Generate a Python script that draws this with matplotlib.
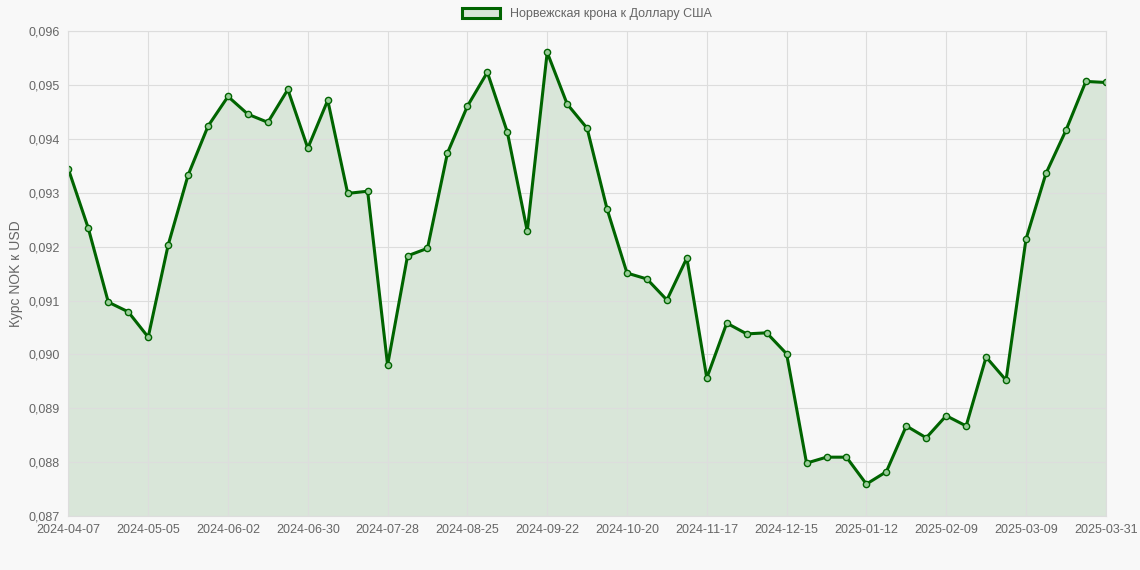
import matplotlib
matplotlib.use("Agg")
import matplotlib.pyplot as plt
from matplotlib.patches import Patch
import numpy as np

# weekly NOK->USD rate, 53 points
rates = [0.09344, 0.09234, 0.09097, 0.09079, 0.09032, 0.09203, 0.09333, 0.09424,
         0.09479, 0.09446, 0.09431, 0.09492, 0.09383, 0.09472, 0.09299, 0.09303,
         0.08980, 0.09183, 0.09197, 0.09374, 0.09461, 0.09524, 0.09413, 0.09229,
         0.09561, 0.09465, 0.09420, 0.09270, 0.09151, 0.09140, 0.09101, 0.09179,
         0.08956, 0.09058, 0.09038, 0.09040, 0.09001, 0.08798, 0.08809, 0.08809,
         0.08759, 0.08782, 0.08867, 0.08845, 0.08886, 0.08867, 0.08995, 0.08952,
         0.09214, 0.09336, 0.09416, 0.09507, 0.09505]
tick_idx = [0, 4, 8, 12, 16, 20, 24, 28, 32, 36, 40, 44, 48, 52]
tick_labels = ["2024-04-07", "2024-05-05", "2024-06-02", "2024-06-30", "2024-07-28",
               "2024-08-25", "2024-09-22", "2024-10-20", "2024-11-17", "2024-12-15",
               "2025-01-12", "2025-02-09", "2025-03-09", "2025-03-31"]

plt.rcParams["font.family"] = ["Liberation Sans", "DejaVu Sans"]
fig = plt.figure(figsize=(11.4, 5.7), dpi=100, facecolor="#f8f8f8")
ax = fig.add_axes([0.06, 0.095, 0.910, 0.85], facecolor="#f8f8f8")
x = np.arange(len(rates))
green = "#006400"
ax.fill_between(x, rates, 0.087, color="#006400", alpha=0.12, lw=0)
ax.plot(x, rates, color=green, lw=2.2, marker="o", ms=4.5, mfc="#9acd9a", mec=green, mew=1)
ax.set_xlim(0, len(rates) - 1)
ax.set_ylim(0.087, 0.096)
yt = np.arange(0.087, 0.09601, 0.001)
ax.set_yticks(yt)
ax.set_yticklabels([f"{v:.3f}".replace(".", ",") for v in yt])
ax.set_xticks(tick_idx)
ax.set_xticklabels(tick_labels)
ax.grid(color="#dddddd", lw=0.8)
for s in ax.spines.values():
    s.set_color("#dddddd")
ax.tick_params(colors="#666666", labelsize=9, length=0, pad=6)
ax.set_ylabel("Курс NOK к USD", color="#666666", fontsize=10)
handle = Patch(facecolor="#d9e6d9", edgecolor=green, linewidth=2.2)
ax.legend([handle], ["Норвежская крона к Доллару США"], loc="lower center",
          bbox_to_anchor=(0.5, 1.0), frameon=False, fontsize=9,
          handlelength=3, handleheight=0.9, labelcolor="#666666")
fig.savefig("out.png", facecolor=fig.get_facecolor())
